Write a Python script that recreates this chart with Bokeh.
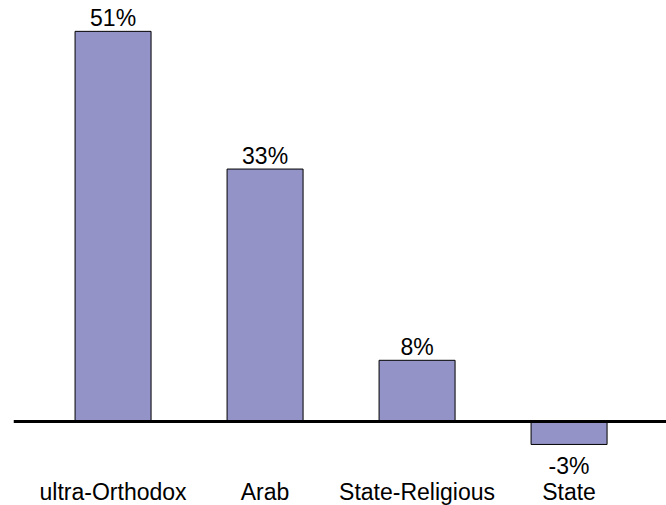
from bokeh.plotting import figure
from bokeh.models import Range1d, Span, FixedTicker, ColumnDataSource
from bokeh.core.properties import value
from bokeh.embed import file_html
from bokeh.resources import INLINE

categories = ["ultra-Orthodox", "Arab", "State-Religious", "State"]
values = [51, 33, 8, -3]
labels = ["51%", "33%", "8%", "-3%"]

xs = list(range(len(categories)))
pos_idx = [i for i, v in enumerate(values) if v >= 0]
neg_idx = [i for i, v in enumerate(values) if v < 0]

src = ColumnDataSource(dict(x=xs, top=values, lab=labels))
src_pos = ColumnDataSource(dict(x=[xs[i] for i in pos_idx], y=[values[i] for i in pos_idx], lab=[labels[i] for i in pos_idx]))
src_neg = ColumnDataSource(dict(x=[xs[i] for i in neg_idx], y=[values[i] for i in neg_idx], lab=[labels[i] for i in neg_idx]))

FONT = "Liberation Sans"

p = figure(frame_width=653, frame_height=478, output_backend="svg", toolbar_location=None,
           x_range=Range1d(-0.655, 3.641), y_range=Range1d(-7.451, 55.033),
           min_border_left=13, min_border_right=0, min_border_top=0, min_border_bottom=27)

p.vbar(x="x", top="top", bottom=0, width=0.5, source=src,
       fill_color="#9393C7", line_color="black", line_width=1)

p.add_layout(Span(location=0, dimension="width", line_color="black", line_width=3))

p.text(x="x", y="y", text="lab", source=src_pos, text_align="center", text_baseline="bottom",
       y_offset=0, text_font=value(FONT), text_font_size="23px", text_color="black")
p.text(x="x", y="y", text="lab", source=src_neg, text_align="center", text_baseline="top",
       y_offset=9, text_font=value(FONT), text_font_size="23px", text_color="black")

p.xgrid.visible = False
p.ygrid.visible = False
p.yaxis.visible = False
p.outline_line_color = None

ax = p.xaxis[0]
ax.ticker = FixedTicker(ticks=xs)
ax.major_label_overrides = {i: c for i, c in zip(xs, categories)}
ax.axis_line_color = None
ax.major_tick_line_color = None
ax.minor_tick_line_color = None
ax.major_tick_out = 0
ax.major_tick_in = 0
ax.major_label_standoff = 0
ax.major_label_text_font = FONT
ax.major_label_text_font_size = "23px"
ax.major_label_text_color = "black"

open("out.html", "w").write(file_html(p, INLINE))
